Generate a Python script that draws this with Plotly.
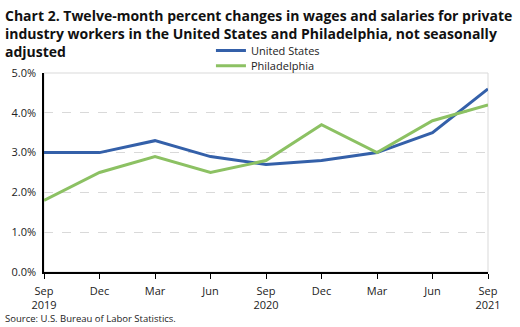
import plotly.graph_objects as go

categories = ["Sep<br>2019", "Dec", "Mar", "Jun", "Sep<br>2020", "Dec", "Mar", "Jun", "Sep<br>2021"]
us_values = [3.0, 3.0, 3.3, 2.9, 2.7, 2.8, 3.0, 3.5, 4.6]
phl_values = [1.8, 2.5, 2.9, 2.5, 2.8, 3.7, 3.0, 3.8, 4.2]
y_ticks = [0, 1, 2, 3, 4, 5]
y_ticklabels = ["0.0%", "1.0%", "2.0%", "3.0%", "4.0%", "5.0%"]

FONT = "Open Sans"
idx = list(range(len(categories)))

fig = go.Figure()
fig.add_trace(go.Scatter(x=idx, y=us_values, mode="lines", name="United States",
                         line=dict(color="#3460A9", width=3), legend="legend"))
fig.add_trace(go.Scatter(x=idx, y=phl_values, mode="lines", name="Philadelphia",
                         line=dict(color="#8CC163", width=3), legend="legend2"))

# plot-area border (grey)
fig.add_shape(type="rect", xref="paper", yref="paper", x0=0, x1=1, y0=0, y1=1,
              line=dict(color="#D9D9D9", width=1), layer="below")

title_text = ("<b>Chart 2. Twelve-month percent changes in wages and salaries for private<br>"
              "industry workers in the United States and Philadelphia, not seasonally<br>"
              "adjusted</b>")

legend_style = dict(xanchor="left", yanchor="middle",
                    font=dict(family=FONT, size=11, color="#222"),
                    itemwidth=30, bgcolor="rgba(0,0,0,0)")

fig.update_layout(
    width=520, height=327,
    margin=dict(l=44, r=32, t=73, b=55),
    plot_bgcolor="white", paper_bgcolor="white",
    font=dict(family=FONT, size=11, color="#222"),
    legend=dict(x=0.376, y=1.113, **legend_style),
    legend2=dict(x=0.376, y=1.036, **legend_style),
    showlegend=True,
    annotations=[
        dict(text=title_text, xref="paper", yref="paper", x=-0.092, y=1.348,
             xanchor="left", yanchor="top", align="left", showarrow=False,
             font=dict(family=FONT, size=14, color="#111")),
        dict(text="Source: U.S. Bureau of Labor Statistics.", xref="paper", yref="paper",
             x=-0.092, y=-0.236, xanchor="left", yanchor="middle", showarrow=False,
             font=dict(family=FONT, size=9.5, color="#222")),
    ],
)
fig.update_xaxes(range=[0, len(categories) - 1], tickmode="array", tickvals=idx, ticktext=categories,
                 showline=True, linecolor="black", linewidth=1.5, ticks="outside", ticklen=5,
                 tickcolor="black", showgrid=False, zeroline=False, tickangle=0,
                 ticklabelstandoff=3,
                 tickfont=dict(family=FONT, size=11, color="#222"))
fig.update_yaxes(range=[0, 5], tickmode="array", tickvals=y_ticks, ticktext=y_ticklabels,
                 showline=True, linecolor="black", linewidth=1.5, ticks="",
                 showgrid=True, gridcolor="#D9D9D9", griddash="dash", gridwidth=1,
                 zeroline=False, ticklabelstandoff=4,
                 tickfont=dict(family=FONT, size=11, color="#222"))

fig.write_html("out.html")
